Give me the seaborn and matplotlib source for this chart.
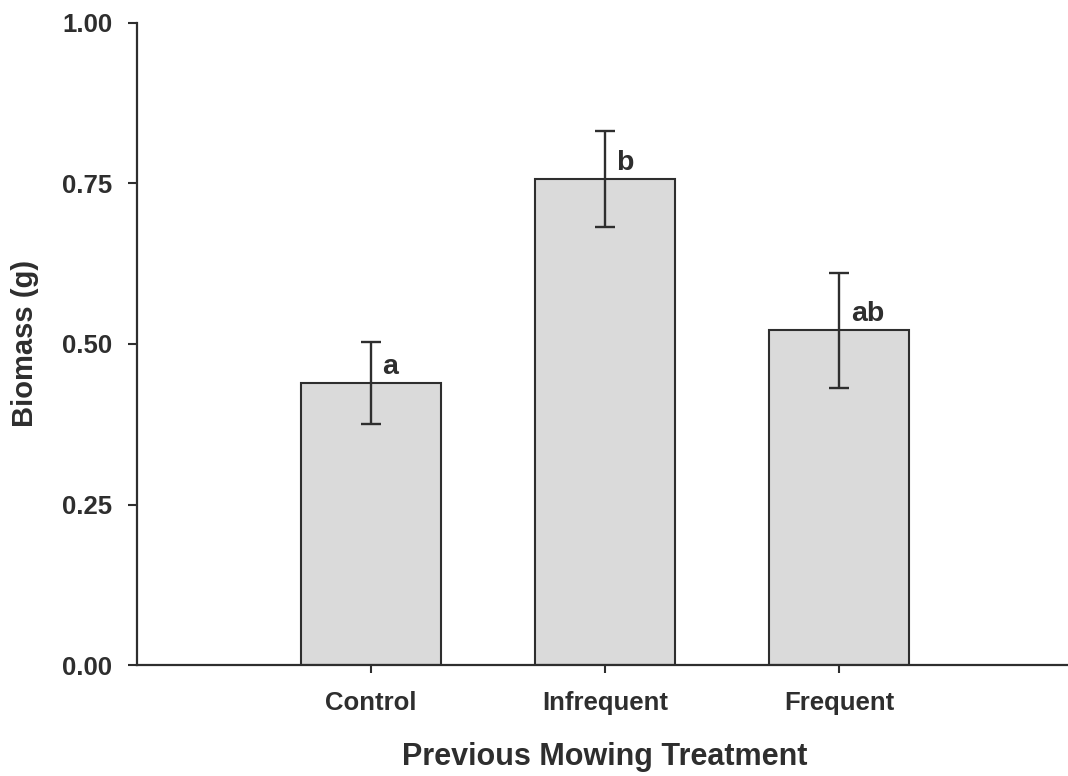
import matplotlib
matplotlib.use("Agg")
import matplotlib.pyplot as plt
import seaborn as sns
import pandas as pd

# Data
treatments = ["Control", "Infrequent", "Frequent"]
biomass = [0.439, 0.757, 0.521]
biomass_se = [0.064, 0.075, 0.090]
letters = ["a", "b", "ab"]

sns.set_style("ticks")
plt.rcParams["font.family"] = ["Liberation Sans", "DejaVu Sans"]
plt.rcParams["font.weight"] = "bold"

ink = "#2e2e2e"
df = pd.DataFrame({"Treatment": treatments, "Biomass": biomass})

fig = plt.figure(figsize=(10.68, 7.76), dpi=100)
ax = fig.add_axes([0.128, 0.1429, 0.8767, 0.8278])

sns.barplot(data=df, x="Treatment", y="Biomass", order=treatments,
            color="#dadada", saturation=1, width=0.6,
            edgecolor=ink, linewidth=1.5, errorbar=None, ax=ax)

# error bars and significance letters
x_pos = range(len(treatments))
ax.errorbar(x_pos, biomass, yerr=biomass_se, fmt="none", ecolor=ink,
            elinewidth=1.7, capsize=7.5, capthick=1.7)
for i, (m, lab) in enumerate(zip(biomass, letters)):
    ax.text(i + 0.05, m + 0.005, lab, ha="left", va="bottom",
            fontsize=20.5, fontweight="bold", color=ink)

ax.set_xlim(-1, 3)
ax.set_ylim(0, 1.0)
ax.set_yticks([0, 0.25, 0.5, 0.75, 1.0])
ax.set_yticklabels(["0.00", "0.25", "0.50", "0.75", "1.00"])

ax.tick_params(axis="y", length=6.5, width=1.5, color=ink, pad=11,
               labelsize=18.5, labelcolor=ink)
ax.tick_params(axis="x", length=6, width=1.5, color=ink, pad=13,
               labelsize=18.5, labelcolor=ink)

ax.set_xlabel("Previous Mowing Treatment", fontsize=22, fontweight="bold",
              color=ink, va="center")
ax.set_ylabel("Biomass (g)", fontsize=21, fontweight="bold", color=ink,
              va="center")
ax.xaxis.set_label_coords(0.5, -0.143)
ax.yaxis.set_label_coords(-0.119, 0.5)

sns.despine(ax=ax)
for side in ["left", "bottom"]:
    ax.spines[side].set_linewidth(1.6)
    ax.spines[side].set_color(ink)

fig.savefig("out.png", dpi=100)
